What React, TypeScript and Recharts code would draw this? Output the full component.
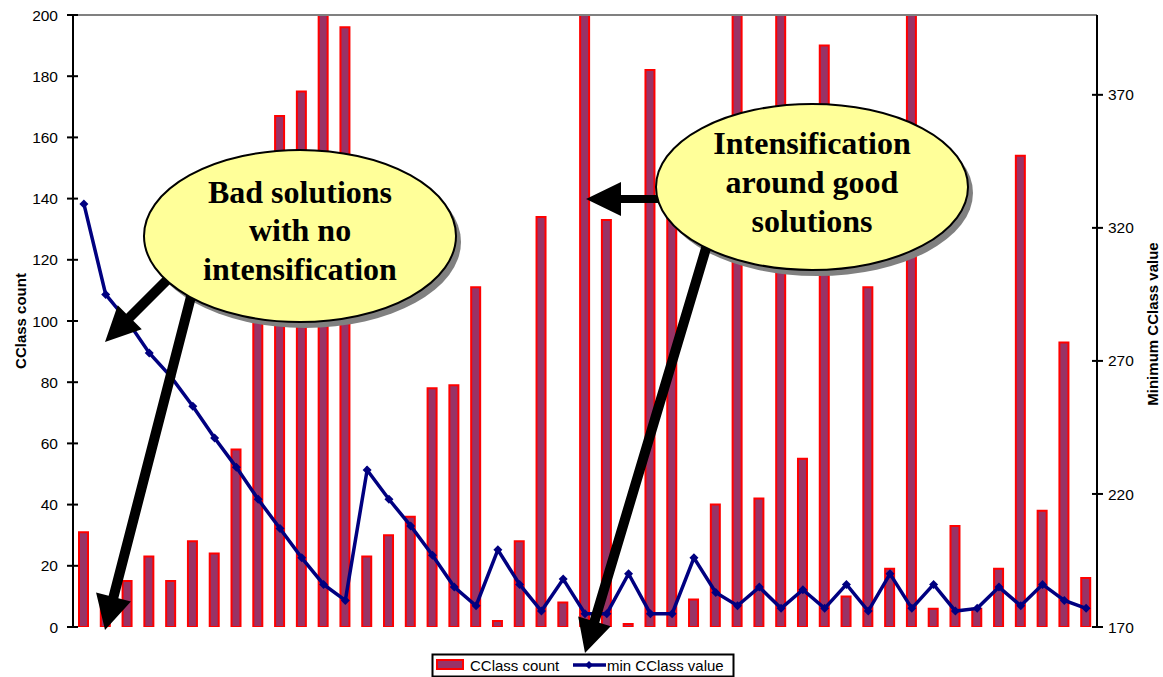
import React from "react";
import {
  ComposedChart,
  Bar,
  Line,
  XAxis,
  YAxis,
  ReferenceLine,
  Legend,
} from "recharts";

// run number on the x axis (no labels shown)
const runs = [
  "1", "2", "3", "4", "5", "6", "7", "8", "9", "10",
  "11", "12", "13", "14", "15", "16", "17", "18", "19", "20",
  "21", "22", "23", "24", "25", "26", "27", "28", "29", "30",
  "31", "32", "33", "34", "35", "36", "37", "38", "39", "40",
  "41", "42", "43", "44", "45", "46", "47",
];

const cclassCount = [
  31, 8, 15, 23, 15, 28, 24, 58, 130, 167,
  175, 210, 196, 23, 30, 36, 78, 79, 111, 2,
  28, 134, 8, 210, 133, 1, 182, 145, 9, 40,
  210, 42, 210, 55, 190, 10, 111, 19, 210, 6,
  33, 6, 19, 154, 38, 93, 16,
];

const minCClassValue = [
  329, 295, 285, 273, 264, 253, 241, 230, 218, 207,
  196, 186, 180, 229, 218, 208, 197, 185, 178, 199,
  186, 176, 188, 175, 175, 190, 175, 175, 196, 183,
  178, 185, 177, 184, 177, 186, 176, 190, 177, 186,
  176, 177, 185, 178, 186, 180, 177,
];

const countTicks = [0, 20, 40, 60, 80, 100, 120, 140, 160, 180, 200];
const valueTicks = [170, 220, 270, 320, 370];

const data = runs.map((run, i) => ({
  run,
  count: cclassCount[i],
  minValue: minCClassValue[i],
}));

const SANS = "'Liberation Sans', Arial, sans-serif";
const SERIF = "'Liberation Serif', 'Times New Roman', serif";

const LeftTick = (props: any) => {
  const { x, y, payload } = props;
  const axisX = x + 15;
  return (
    <g>
      <line x1={axisX - 6} x2={axisX + 5} y1={y} y2={y} stroke="#000" strokeWidth={2} />
      <text x={x} y={y} dy="0.36em" textAnchor="end" fontFamily={SANS} fontSize={15.5} fill="#000">
        {payload.value}
      </text>
    </g>
  );
};

const RightTick = (props: any) => {
  const { x, y, payload } = props;
  const axisX = x - 11;
  return (
    <g>
      <line x1={axisX - 5} x2={axisX + 6} y1={y} y2={y} stroke="#000" strokeWidth={2} />
      <text x={x} y={y} dy="0.36em" textAnchor="start" fontFamily={SANS} fontSize={15.5} fill="#000">
        {payload.value}
      </text>
    </g>
  );
};

const Diamond = (props: any) => {
  const { cx, cy } = props;
  if (cx == null || cy == null) return null;
  return (
    <polygon
      points={`${cx},${cy - 4.5} ${cx + 4.5},${cy} ${cx},${cy + 4.5} ${cx - 4.5},${cy}`}
      fill="#000080"
    />
  );
};

const renderLegend = () => (
  <svg width={1163} height={50} style={{ display: "block" }}>
    <rect x={432.5} y={27.5} width={301} height={22} fill="#fff" stroke="#000" strokeWidth={2} />
    <rect x={437} y={33} width={26} height={9} fill="#993366" stroke="#FF0000" strokeWidth={2} />
    <text x={470} y={44} fontFamily={SANS} fontSize={15} fill="#000">CClass count</text>
    <line x1={573} x2={606} y1={38} y2={38} stroke="#000080" strokeWidth={3.5} />
    <polygon points="589,34 593,38 589,42 585,38" fill="#000080" />
    <text x={607} y={44} fontFamily={SANS} fontSize={15} fill="#000">min CClass value</text>
  </svg>
);

// filled block arrow from (x1,y1) to tip (x2,y2)
function arrowPoints(
  x1: number, y1: number, x2: number, y2: number,
  shaft: number, headLen: number, headHalf: number
) {
  const dx = x2 - x1;
  const dy = y2 - y1;
  const len = Math.hypot(dx, dy);
  const ux = dx / len;
  const uy = dy / len;
  const nx = -uy;
  const ny = ux;
  const bx = x2 - ux * headLen;
  const by = y2 - uy * headLen;
  const s = shaft / 2;
  const pts = [
    [x1 + nx * s, y1 + ny * s],
    [bx + nx * s, by + ny * s],
    [bx + nx * headHalf, by + ny * headHalf],
    [x2, y2],
    [bx - nx * headHalf, by - ny * headHalf],
    [bx - nx * s, by - ny * s],
    [x1 - nx * s, y1 - ny * s],
  ];
  return pts.map((p) => p.join(",")).join(" ");
}

const Callout = ({
  cx, cy, rx, ry, lines, baselines,
}: { cx: number; cy: number; rx: number; ry: number; lines: string[]; baselines: number[] }) => (
  <g>
    <ellipse cx={cx} cy={cy} rx={rx} ry={ry} fill="#FFFF99" stroke="#000" strokeWidth={2} />
    {lines.map((t, i) => (
      <text
        key={t}
        x={cx}
        y={baselines[i]}
        textAnchor="middle"
        fontFamily={SERIF}
        fontWeight="bold"
        fontSize={32}
        fill="#000"
      >
        {t}
      </text>
    ))}
  </g>
);

export default function App() {
  return (
    <div style={{ position: "absolute", left: 0, top: 0, width: 1163, height: 677, background: "#fff" }}>
      <ComposedChart
        width={1163}
        height={677}
        data={data}
        margin={{ top: 15, right: 0, bottom: 0, left: 0 }}
      >
        <XAxis
          dataKey="run"
          height={0}
          tick={false}
          tickLine={false}
          axisLine={{ stroke: "#808080", strokeWidth: 2 }}
        />
        <YAxis
          yAxisId="left"
          orientation="left"
          width={73}
          domain={[0, 200]}
          ticks={countTicks}
          interval={0}
          allowDataOverflow
          tickLine={false}
          tickSize={5}
          tickMargin={10}
          tick={<LeftTick />}
          axisLine={{ stroke: "#000", strokeWidth: 2 }}
        />
        <YAxis
          yAxisId="right"
          orientation="right"
          width={66}
          domain={[170, 400]}
          ticks={valueTicks}
          interval={0}
          allowDataOverflow
          tickLine={false}
          tickSize={5}
          tickMargin={6}
          tick={<RightTick />}
          axisLine={{ stroke: "#000", strokeWidth: 2 }}
        />
        <ReferenceLine yAxisId="left" y={200} stroke="#808080" strokeWidth={2} />
        <Bar
          yAxisId="left"
          dataKey="count"
          name="CClass count"
          fill="#993366"
          stroke="#FF0000"
          strokeWidth={2}
          barSize={9}
          isAnimationActive={false}
        />
        <Line
          yAxisId="right"
          dataKey="minValue"
          name="min CClass value"
          type="linear"
          stroke="#000080"
          strokeWidth={3.5}
          dot={<Diamond />}
          activeDot={false}
          isAnimationActive={false}
        />
        <Legend verticalAlign="bottom" content={renderLegend} />
      </ComposedChart>

      <svg
        width={1163}
        height={677}
        style={{ position: "absolute", left: 0, top: 0, pointerEvents: "none" }}
      >
        <text
          transform="rotate(-90 26 321)"
          x={26}
          y={321}
          textAnchor="middle"
          fontFamily={SANS}
          fontWeight="bold"
          fontSize={15}
          fill="#000"
        >
          CClass count
        </text>
        <text
          transform="rotate(-90 1158 324)"
          x={1158}
          y={324}
          textAnchor="middle"
          fontFamily={SANS}
          fontWeight="bold"
          fontSize={15}
          fill="#000"
        >
          Minimum CClass value
        </text>

        {/* shadows */}
        <ellipse cx={305} cy={242} rx={156} ry={86} fill="#808080" />
        <ellipse cx={817} cy={193} rx={156} ry={83} fill="#808080" />

        {/* arrows */}
        <polygon points={arrowPoints(175, 272, 105, 342, 10, 35, 17)} fill="#000" />
        <polygon points={arrowPoints(194, 285, 105, 630, 10, 34, 18)} fill="#000" />
        <polygon points={arrowPoints(665, 199, 586, 199, 8, 35, 17)} fill="#000" />
        <polygon points={arrowPoints(710, 235, 585, 653, 10, 33, 17)} fill="#000" />

        <Callout
          cx={300}
          cy={236}
          rx={156}
          ry={86}
          lines={["Bad solutions", "with no", "intensification"]}
          baselines={[203, 241, 280]}
        />
        <Callout
          cx={812}
          cy={187}
          rx={156}
          ry={83}
          lines={["Intensification", "around good", "solutions"]}
          baselines={[154, 193, 232]}
        />
      </svg>
    </div>
  );
}
